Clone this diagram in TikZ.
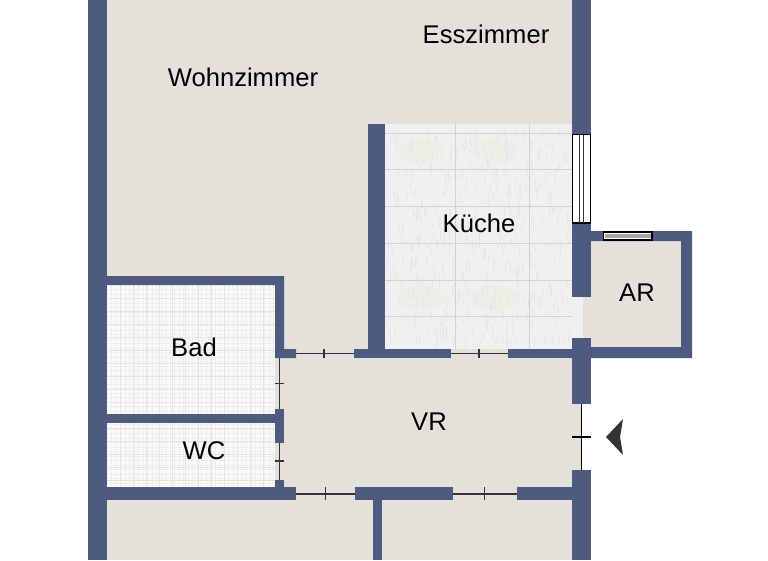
\documentclass[tikz,border=0pt]{standalone}
\usepackage{fontspec}
\setmainfont{Liberation Sans}
\definecolor{wallblue}{HTML}{4F5A80}
\definecolor{floorgrey}{HTML}{E3E1DA}
\definecolor{tilegrey}{HTML}{EFF0EF}
\definecolor{tileline}{HTML}{D2D2CE}
\definecolor{tilestreak}{HTML}{E2E3E2}
\definecolor{tilegreen}{HTML}{EDEFE7}
\definecolor{bathline}{HTML}{EFEFED}
\definecolor{bathmajor}{HTML}{E4E4E1}
\tikzset{
	wall/.style={fill=wallblue,draw=none},
	door/.style={draw=black!80,line width=1.2pt},
	roomlabel/.style={font=\fontsize{25.6}{28}\selectfont,text=black,inner sep=0pt,anchor=base}
}
\begin{document}
\begin{tikzpicture}[x=1pt,y=-1pt]
	\useasboundingbox (0,0) rectangle (768,560);
	\pgfmathsetseed{7}
	% floors
	\fill[floorgrey] (107,0) rectangle (581,560);
	\fill[floorgrey] (581,241) rectangle (681,347);
	\fill[white!98!black] (107,285) rectangle (275,487);
	\fill[tilegrey] (385,124) rectangle (572,349);
	\fill[tilegrey] (572,297) rectangle (583,338);
	% kitchen tiles
	\foreach \tx in {385,459}
		\foreach \ty in {133,280}
			\fill[tilegreen] (\tx+36,\ty+18) ellipse (24 and 12);
	\foreach \n in {1,...,420}{
		\pgfmathsetmacro{\sx}{387+rnd*183}
		\pgfmathsetmacro{\sy}{126+rnd*215}
		\draw[tilestreak,line width=0.7pt] (\sx,\sy)--++(rnd*3-1.5,4+rnd*7);
	}
	\foreach \tx in {455,529}
		\draw[tileline,line width=0.8pt] (\tx,124)--(\tx,349);
	\foreach \ty in {133,169,206,243,280,316}
		\draw[tileline,line width=0.8pt] (385,\ty)--(572,\ty);
	% bath tiles
	\foreach \tx in {111.5,116,...,275}
		\draw[bathline,line width=0.4pt] (\tx,285)--(\tx,487);
	\foreach \ty in {289.5,294,...,487}
		\draw[bathline,line width=0.4pt] (107,\ty)--(275,\ty);
	\foreach \tx in {120.5,133.5,...,275}
		\draw[bathmajor,line width=0.5pt] (\tx,285)--(\tx,487);
	\foreach \ty in {298.5,311.5,...,487}
		\draw[bathmajor,line width=0.5pt] (107,\ty)--(275,\ty);
	% outer walls
	\fill[wall] (88,0) rectangle (107,560);
	\fill[wall] (572,0) rectangle (591,135);
	\fill[wall] (572,223) rectangle (591,297);
	\fill[wall] (572,338) rectangle (591,404);
	\fill[wall] (572,470) rectangle (591,560);
	% store room
	\fill[wall] (591,231)--(692,231)--(692,358)--(591,358)--(591,347)--(681,347)--(681,241)--(591,241)--cycle;
	% kitchen walls
	\fill[wall] (368,124) rectangle (385,349);
	\fill[wall] (354,349) rectangle (451,358);
	\fill[wall] (508,349) rectangle (572,358);
	% bath and wc walls
	\fill[wall] (107,276)--(284,276)--(284,349)--(296,349)--(296,358)--(275,358)--(275,285)--(107,285)--cycle;
	\fill[wall] (107,414) rectangle (275,423);
	\fill[wall] (275,409) rectangle (284,443);
	\fill[wall] (275,480) rectangle (284,487);
	\fill[wall] (107,487) rectangle (296,500);
	% lower walls
	\fill[wall] (355,487) rectangle (453,500);
	\fill[wall] (517,487) rectangle (572,500);
	\fill[wall] (373,500) rectangle (382,560);
	% doors
	\draw[door] (296,353.5)--(354,353.5) (324,349)--(324,358);
	\draw[door] (451,353.5)--(508,353.5) (479,349)--(479,358);
	\draw[door] (279.5,358)--(279.5,409) (275,383.5)--(284,383.5);
	\draw[door] (279.5,443)--(279.5,480) (275,461)--(284,461);
	\draw[door] (296,494)--(355,494) (325.5,487)--(325.5,500);
	\draw[door] (453,494)--(517,494) (484.5,487)--(484.5,500);
	\draw[black,line width=1.2pt] (581.5,404)--(581.5,470) (572,437)--(591,437);
	% windows
	\draw[fill=white,line width=1.1pt] (572.5,134.5) rectangle (590.5,223);
	\draw[black!80,line width=0.8pt] (579,134.5)--(579,223) (583.5,134.5)--(583.5,223);
	\draw[fill=white,line width=1.1pt] (603.5,232) rectangle (652,240);
	\fill[black!35] (604.5,234.2) rectangle (651,237.8);
	% entrance mark
	\fill[black!80] (606,437)--(623,419)--(620,437)--(623,455)--cycle;
	% labels
	\node[roomlabel] (wohnen) at (243,86) {Wohnzimmer};
	\node[roomlabel] (essen) at (486,43) {Esszimmer};
	\node[roomlabel] (kueche) at (479,232) {Küche};
	\node[roomlabel] (abstell) at (637,301) {AR};
	\node[roomlabel] (bad) at (194,356) {Bad};
	\node[roomlabel] (wc) at (204,459) {WC};
	\node[roomlabel] (flur) at (429,430) {VR};
\end{tikzpicture}
\end{document}
